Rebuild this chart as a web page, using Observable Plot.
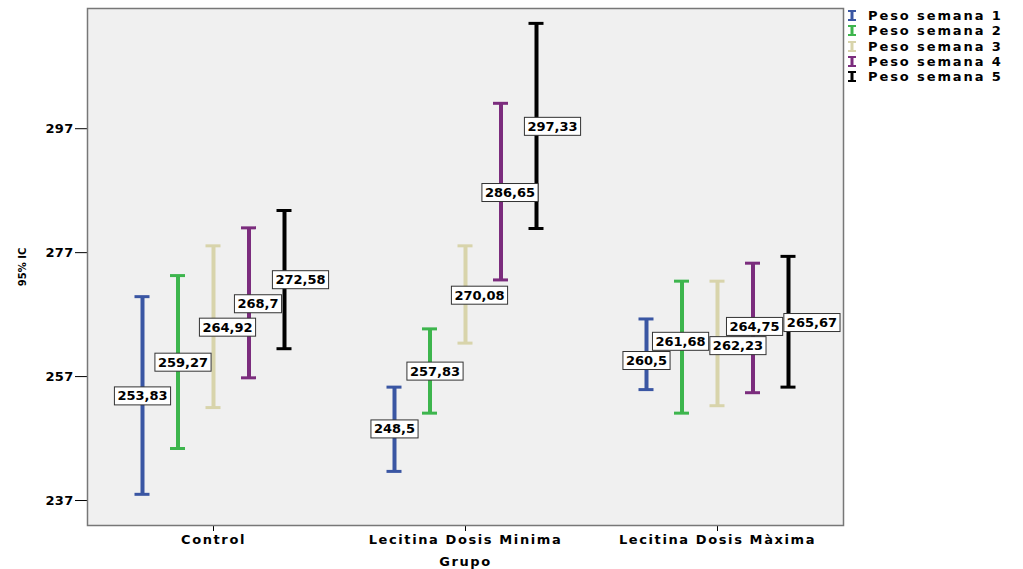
<!DOCTYPE html>
<html><head><meta charset="utf-8">
<script src="https://cdn.jsdelivr.net/npm/d3@7"></script>
<script src="https://cdn.jsdelivr.net/npm/@observablehq/plot@0.6"></script>
<style>
html,body{margin:0;padding:0;background:#fff;}
#wrap{position:relative;width:1023px;height:569px;font-family:"DejaVu Sans",sans-serif;}
#wrap svg g[aria-label^="x-axis"] text{letter-spacing:1.6px;}
#wrap svg g[aria-label^="y-axis"] text{letter-spacing:0.3px;}
#wrap svg g[aria-label="text"] text{letter-spacing:0px;font-size:13px;}
#ylab{position:absolute;left:22px;top:267px;transform:translate(-50%,-50%) rotate(-90deg);font-weight:bold;font-size:10px;white-space:nowrap;color:#000;}
#legend{position:absolute;left:848px;top:8px;font-weight:bold;font-size:13px;letter-spacing:1.9px;color:#000;}
#legend .item{display:flex;align-items:center;height:15.3px;}
#legend svg{margin-right:12px;}
</style></head><body><div id="wrap"><div id="ylab">95% IC</div><div id="legend"></div></div>
<script>
const groups = ["Control", "Lecitina Dosis Minima", "Lecitina Dosis Màxima"];
const series = ["Peso semana 1", "Peso semana 2", "Peso semana 3", "Peso semana 4", "Peso semana 5"];
const colors = ["#3a56a3", "#3db54d", "#d8d4ab", "#7b2c7d", "#000000"];
const yTicks = [237, 257, 277, 297];

// means per group (one value per week)
const meanControl = [253.83, 259.27, 264.92, 268.7, 272.58];
const meanMinima  = [248.5, 257.83, 270.08, 286.65, 297.33];
const meanMaxima  = [260.5, 261.68, 262.23, 264.75, 265.67];
// 95% CI lower bounds
const lowControl = [238.0, 245.4, 252.0, 256.8, 261.5];
const lowMinima  = [241.7, 251.1, 262.4, 272.6, 280.9];
const lowMaxima  = [254.9, 251.1, 252.3, 254.4, 255.3];
// 95% CI upper bounds
const highControl = [269.9, 273.3, 278.1, 281.0, 283.8];
const highMinima  = [255.3, 264.7, 278.1, 301.1, 314.0];
const highMaxima  = [266.3, 272.4, 272.4, 275.3, 276.4];

const means = [meanControl, meanMinima, meanMaxima];
const lows = [lowControl, lowMinima, lowMaxima];
const highs = [highControl, highMinima, highMaxima];

const rows = [];
groups.forEach((g, gi) => series.forEach((s, si) => rows.push({
  group: g, series: s, si,
  mean: means[gi][si], lo: lows[gi][si], hi: highs[gi][si],
  label: String(means[gi][si]).replace(".", ",")
})));

const step = 35.5;              // spacing of the weeks inside a group (style)
const labelShift = [0, 5, 14, 9, 16]; // label nudge per week (style)
const marks = [Plot.frame({fill: "#f0f0f0", stroke: "#777", strokeWidth: 1.5})];
series.forEach((s, si) => {
  const d = rows.filter(r => r.si === si);
  const dx = (si - 2) * step;
  marks.push(Plot.ruleX(d, {x: "group", y1: "lo", y2: "hi", stroke: "series", strokeWidth: 4, dx}));
  marks.push(Plot.tickY(d, {x: "group", y: "lo", stroke: "series", strokeWidth: 3, insetLeft: 118.5, insetRight: 118.5, dx}));
  marks.push(Plot.tickY(d, {x: "group", y: "hi", stroke: "series", strokeWidth: 3, insetLeft: 118.5, insetRight: 118.5, dx}));
});
series.forEach((s, si) => {
  const d = rows.filter(r => r.si === si);
  const dx = (si - 2) * step + labelShift[si];
  marks.push(Plot.text(d, {x: "group", y: "mean", text: "label", dx, fill: "#000", fontWeight: "bold"}));
});

const chart = Plot.plot({
  width: 1023, height: 569,
  marginLeft: 87, marginRight: 180, marginTop: 8, marginBottom: 44,
  style: {fontFamily: "'DejaVu Sans', sans-serif", fontSize: "13px", fontWeight: "bold", color: "#000", background: "#fff"},
  x: {domain: groups, padding: 0, tickSize: 6, label: "Grupo", labelAnchor: "center", labelOffset: 40, labelArrow: "none"},
  y: {domain: [232.97, 316.4], ticks: yTicks, tickSize: 12, tickPadding: 2, label: null, line: true, tickFormat: d => String(d)},
  color: {domain: series, range: colors},
  marks
});
document.getElementById("wrap").appendChild(chart);

// white boxes behind value labels, then a small repel so boxes do not overlap
const ns = "http://www.w3.org/2000/svg";
const labels = [];
chart.querySelectorAll('g[aria-label="text"]').forEach(gMark => {
  gMark.querySelectorAll("text").forEach(t => {
    const b = t.getBBox();
    const g = document.createElementNS(ns, "g");
    const r = document.createElementNS(ns, "rect");
    r.setAttribute("x", b.x - 3);
    r.setAttribute("y", b.y - 1.5);
    r.setAttribute("width", b.width + 6);
    r.setAttribute("height", b.height + 3);
    r.setAttribute("fill", "#fff");
    r.setAttribute("stroke", "#333");
    r.setAttribute("stroke-width", 1);
    if (t.getAttribute("transform")) r.setAttribute("transform", t.getAttribute("transform"));
    t.parentNode.insertBefore(g, t);
    g.appendChild(r); g.appendChild(t);
    const c = r.getBoundingClientRect();
    labels.push({g, x: c.x, y: c.y, w: c.width + 1, h: c.height + 1, x0: c.x, y0: c.y});
  });
});
for (let it = 0; it < 200; it++) {
  for (let i = 0; i < labels.length; i++) for (let j = i + 1; j < labels.length; j++) {
    const a = labels[i], b = labels[j];
    const ox = Math.min(a.x + a.w, b.x + b.w) - Math.max(a.x, b.x);
    const oy = Math.min(a.y + a.h, b.y + b.h) - Math.max(a.y, b.y);
    if (ox > 0 && oy > 0) {
      if (ox <= oy) {
        const s = ox / 2 + 0.1, dir = (a.x + a.w / 2 <= b.x + b.w / 2) ? 1 : -1;
        a.x -= s * dir; b.x += s * dir;
      } else {
        const s = oy / 2 + 0.1, dir = (a.y + a.h / 2 <= b.y + b.h / 2) ? 1 : -1;
        a.y -= s * dir; b.y += s * dir;
      }
    }
  }
}
labels.forEach(l => l.g.setAttribute("transform", `translate(${l.x - l.x0},${l.y - l.y0})`));

// legend
const leg = d3.select("#legend");
series.forEach((s, i) => {
  const it = leg.append("div").attr("class", "item");
  const sv = it.append("svg").attr("width", 8).attr("height", 11);
  sv.append("line").attr("x1", 4).attr("x2", 4).attr("y1", 1).attr("y2", 10).attr("stroke", colors[i]).attr("stroke-width", 3);
  sv.append("line").attr("x1", 0).attr("x2", 8).attr("y1", 1).attr("y2", 1).attr("stroke", colors[i]).attr("stroke-width", 2);
  sv.append("line").attr("x1", 0).attr("x2", 8).attr("y1", 10).attr("y2", 10).attr("stroke", colors[i]).attr("stroke-width", 2);
  it.append("span").text(s);
});
</script></body></html>
